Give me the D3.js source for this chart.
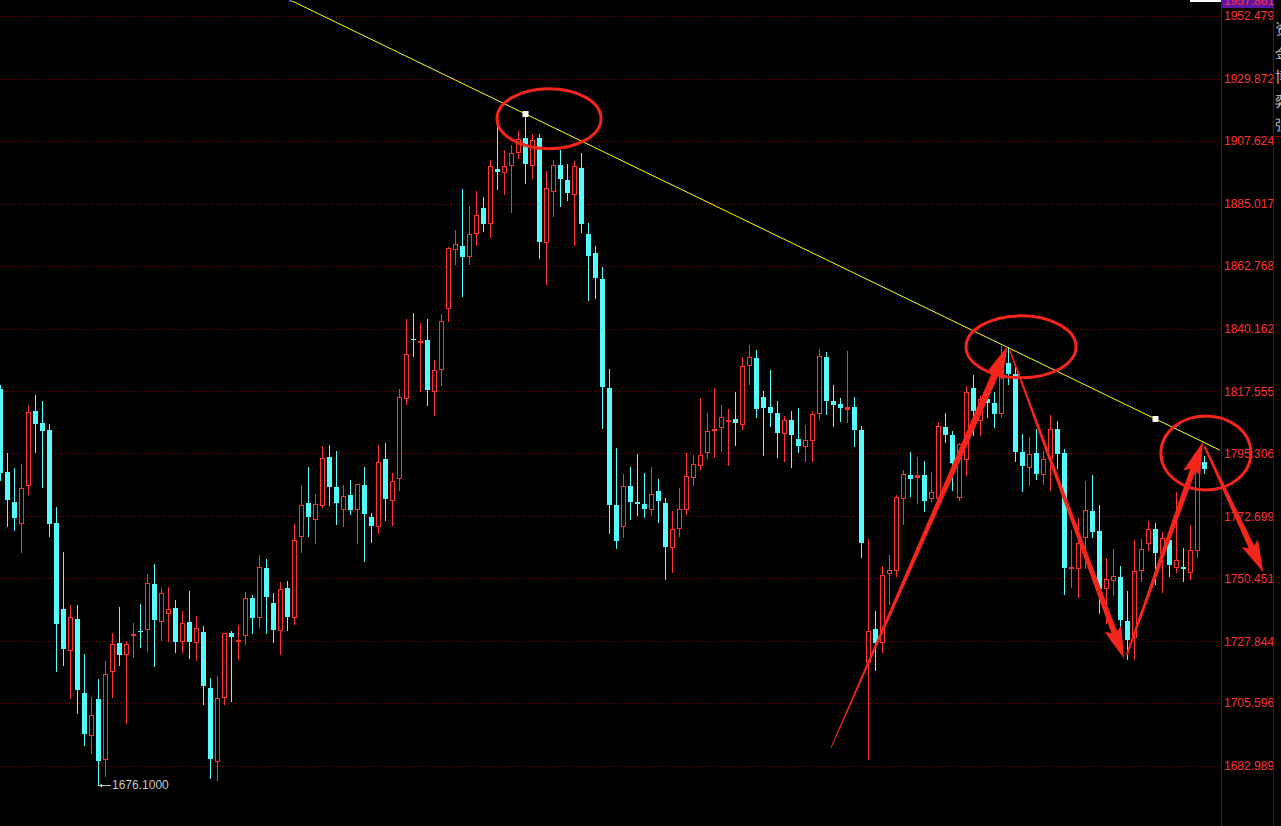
<!DOCTYPE html>
<html><head><meta charset="utf-8">
<script src="https://cdn.jsdelivr.net/npm/d3@7/dist/d3.min.js"></script>
<style>
html,body{margin:0;padding:0;background:#000;overflow:hidden;}
svg{display:block;}
text{font-family:"Liberation Sans",Arial,sans-serif;}
</style></head>
<body>
<svg id="chart" width="1281" height="826"></svg>
<script>
// ---- data (OHLC per bar) ----
const openP = [1818.5,1788.6,1777.8,1770.4,1784.1,1810.6,1806.2,1803.7,1770.2,1739.4,1724.6,1735.8,1709.2,1694.0,1707.1,1685.4,1717.0,1727.2,1723.3,1729.9,
1731.5,1732.1,1748.4,1735.2,1737.9,1739.8,1727.9,1734.7,1727.5,1731.1,1711.0,1684.9,1707.7,1730.8,1728.1,1729.9,1743.2,1736.4,1754.0,1741.6,
1731.8,1746.8,1736.4,1765.5,1777.4,1771.6,1776.9,1794.0,1783.1,1775.4,1780.3,1775.4,1784.0,1772.5,1769.3,1793.2,1778.5,1786.4,1815.1,1836.4,
1835.4,1835.9,1817.6,1825.5,1847.5,1868.9,1869.7,1866.1,1874.4,1883.5,1878.2,1897.5,1896.3,1898.8,1903.7,1908.6,1899.1,1908.6,1871.4,1889.7,
1898.9,1893.6,1888.6,1897.9,1874.2,1867.3,1858.0,1818.8,1776.8,1769.3,1783.5,1777.8,1777.1,1775.4,1781.8,1777.5,1761.8,1768.6,1775.4,1786.7,
1791.3,1795.7,1803.6,1804.7,1807.0,1807.7,1806.0,1827.0,1829.6,1815.6,1812.0,1809.8,1802.8,1807.3,1800.5,1798.1,1800.2,1809.7,1830.0,1814.1,
1813.1,1811.4,1812.0,1803.7,1720.3,1732.2,1727.6,1752.4,1753.5,1779.2,1787.6,1786.7,1787.6,1779.4,1779.4,1804.7,1801.8,1779.7,1793.2,1818.8,
1807.3,1814.9,1813.4,1809.9,1827.7,1823.8,1795.7,1790.3,1795.4,1787.8,1793.6,1804.1,1795.5,1754.1,1754.2,1765.4,1774.7,1767.4,1746.8,1749.7,
1751.0,1735.1,1729.5,1753.5,1763.2,1768.3,1759.4,1764.2,1754.6,1754.5,1752.8,1760.5,1792.2];
const highP = [1819.9,1795.4,1790.1,1791.5,1812.7,1816.3,1814.1,1805.9,1775.9,1759.9,1740.7,1740.7,1723.2,1707.8,1714.2,1720.7,1730.7,1740.0,1728.0,1734.3,
1741.2,1752.0,1755.6,1746.9,1747.3,1742.6,1738.7,1745.9,1736.8,1733.3,1714.6,1715.3,1730.7,1731.5,1733.7,1745.5,1744.4,1758.8,1757.4,1745.2,
1749.1,1749.5,1769.9,1784.0,1790.4,1780.7,1798.0,1798.3,1796.2,1784.0,1785.8,1784.2,1790.4,1773.9,1798.3,1798.9,1788.3,1818.5,1843.6,1845.8,
1842.2,1843.6,1828.9,1845.4,1869.4,1875.6,1890.3,1884.2,1889.6,1887.4,1900.7,1914.4,1904.3,1906.1,1911.2,1917.3,1910.1,1910.1,1896.8,1900.7,
1904.3,1899.3,1900.4,1903.3,1878.2,1869.9,1862.4,1825.6,1797.1,1787.9,1790.3,1795.1,1788.3,1790.4,1786.1,1779.3,1774.6,1782.9,1795.4,1794.6,
1815.2,1809.8,1818.8,1812.7,1811.3,1817.4,1830.0,1834.3,1832.5,1817.7,1825.3,1814.1,1808.8,1810.7,1811.6,1805.5,1810.7,1832.8,1831.7,1819.9,
1815.2,1832.1,1815.6,1805.2,1764.6,1738.7,1754.7,1758.7,1780.3,1789.3,1795.8,1794.0,1792.6,1788.6,1806.6,1809.7,1803.4,1799.1,1819.5,1823.5,
1815.9,1817.5,1817.4,1833.9,1833.7,1827.3,1802.2,1801.1,1804.1,1796.3,1809.0,1807.0,1796.9,1767.8,1772.2,1785.4,1787.6,1776.8,1757.7,1761.0,
1755.0,1745.9,1764.2,1764.7,1771.0,1770.4,1767.1,1766.7,1781.6,1761.3,1769.6,1795.5,1794.4];
const lowP = [1785.8,1769.2,1767.8,1759.9,1780.7,1795.8,1783.4,1765.6,1717.2,1719.4,1707.5,1702.1,1690.6,1687.6,1676.1,1679.4,1707.9,1719.3,1698.5,1722.3,
1725.9,1724.3,1718.9,1728.1,1727.8,1723.9,1723.9,1721.8,1721.1,1705.3,1678.7,1678.0,1705.3,1706.3,1721.5,1726.9,1730.9,1733.0,1730.9,1727.5,
1723.3,1732.0,1734.1,1760.0,1765.7,1763.2,1776.2,1776.9,1770.1,1769.3,1773.5,1763.2,1756.8,1763.5,1766.8,1771.5,1769.7,1782.3,1813.2,1830.4,
1817.6,1812.8,1809.2,1820.0,1843.0,1863.5,1852.0,1863.5,1870.3,1875.3,1873.2,1890.4,1888.6,1882.2,1901.5,1892.6,1894.4,1865.6,1856.3,1880.7,
1884.3,1886.5,1870.3,1874.8,1850.4,1851.3,1804.6,1766.8,1761.4,1765.4,1771.8,1773.3,1772.6,1773.3,1770.8,1750.3,1752.8,1765.7,1773.6,1784.1,
1789.8,1793.8,1794.1,1796.3,1791.3,1798.4,1804.2,1820.4,1808.5,1794.8,1805.3,1794.1,1792.7,1790.5,1795.9,1792.7,1792.7,1807.7,1809.6,1805.3,
1807.1,1806.7,1798.1,1758.2,1685.6,1717.6,1724.1,1741.3,1751.4,1770.1,1780.1,1777.6,1774.7,1778.3,1778.3,1799.5,1782.2,1778.6,1787.7,1801.8,
1801.8,1808.5,1804.9,1808.5,1820.4,1792.7,1781.9,1784.1,1786.2,1784.4,1782.3,1790.2,1744.9,1747.4,1743.8,1754.0,1765.4,1738.1,1734.3,1744.5,
1727.5,1721.3,1721.4,1749.6,1760.5,1748.5,1745.5,1751.4,1752.8,1749.6,1750.3,1758.0,1788.1];
const closeP = [1788.3,1778.6,1772.2,1782.8,1810.1,1806.0,1803.5,1769.9,1734.1,1725.1,1736.4,1710.3,1694.6,1701.2,1684.9,1716.0,1726.8,1723.0,1726.8,1730.3,
1731.1,1748.7,1735.6,1745.2,1739.3,1727.5,1734.3,1727.5,1732.4,1711.7,1685.6,1707.3,1730.7,1729.4,1728.4,1743.2,1736.3,1754.4,1743.8,1732.0,
1746.5,1736.6,1764.1,1776.7,1772.6,1777.0,1793.6,1783.4,1777.6,1779.9,1775.1,1784.2,1773.6,1769.3,1792.1,1779.0,1785.3,1815.5,1830.9,1836.1,
1835.8,1818.0,1825.2,1842.8,1869.0,1870.5,1866.0,1874.0,1880.9,1877.9,1898.6,1896.5,1898.6,1903.3,1908.2,1899.4,1907.9,1871.4,1890.7,1898.9,
1893.9,1889.0,1898.6,1877.6,1866.4,1858.4,1819.3,1776.8,1764.0,1783.5,1778.0,1777.2,1775.4,1780.6,1778.3,1761.8,1768.0,1775.2,1787.1,1791.4,
1794.6,1803.3,1804.0,1808.3,1807.3,1806.3,1826.6,1829.8,1811.4,1811.7,1809.9,1802.8,1807.3,1802.0,1798.1,1800.1,1809.5,1830.3,1814.3,1812.8,
1811.7,1812.0,1803.8,1763.2,1731.4,1727.1,1751.7,1753.3,1779.5,1787.8,1786.2,1787.6,1778.3,1781.3,1805.1,1802.0,1792.0,1798.7,1817.3,1810.7,
1814.8,1813.5,1809.6,1827.9,1824.0,1795.9,1790.9,1795.1,1788.0,1793.2,1804.0,1795.2,1754.2,1754.4,1763.1,1775.0,1767.2,1746.6,1750.1,1751.2,
1735.5,1728.3,1753.0,1761.0,1768.1,1759.5,1765.0,1755.3,1757.0,1753.8,1760.6,1792.1,1789.8];

// price axis tick labels
const tickValues = [1952.479,1929.872,1907.624,1885.017,1862.768,1840.162,1817.555,1795.306,1772.699,1750.451,1727.844,1705.596,1682.989];
const topMarkLabel = "1957.861";
const lowIndex = 14, lowLabel = "1676.1000";

// annotations in (bar index, price)
const trendAnchors = [[75, 1917.26], [165, 1807.68]];
const trendRange = [41.36, 174.2];
const circles = [[78.36, 1915.6, 52, 30], [145.79, 1833.6, 55, 31], [172.2, 1795.5, 45, 37]];
const arrows = [
  [[118.64, 1689.5], [143.86, 1833.9]],
  [[144.2, 1832.3], [160.5, 1721.6]],
  [[160.9, 1722.9], [171.8, 1799.6]],
  [[172.0, 1797.8], [180.4, 1752.6]]
];
const sideChars = ["资","金","博","弈","强"];

// ---- scales ----
const plotRight = 1221;
const x = d3.scaleLinear().domain([0, 172]).range([0.5, 1204.5]);
const y = d3.scaleLinear().domain([1682.989, 1952.479]).range([766, 16]);

const svg = d3.select("#chart");
const RED = "#ff3232", CYAN = "#54fcfc", GRID = "#8a0000", ANN = "#f4251a";

// grid lines
svg.append("g").selectAll("line").data(tickValues).join("line")
  .attr("x1", 0).attr("x2", plotRight)
  .attr("y1", d => Math.round(y(d)) + 0.5).attr("y2", d => Math.round(y(d)) + 0.5)
  .attr("stroke", GRID).attr("stroke-width", 1).attr("stroke-dasharray", "1,2")
  .attr("shape-rendering", "crispEdges");

// right axis
const axis = d3.axisRight(y).tickValues(tickValues).tickSize(0).tickFormat(d3.format(".3f"));
const ag = svg.append("g").attr("transform", `translate(${plotRight + 0.5},0)`).call(axis);
ag.select(".domain").remove();
ag.selectAll("text").attr("fill", RED).attr("font-size", 12).attr("x", 2.5)
  .attr("font-family", "'Liberation Sans',Arial,sans-serif");
svg.append("line").attr("x1", plotRight + 0.5).attr("x2", plotRight + 0.5).attr("y1", 0).attr("y2", 826)
  .attr("stroke", "#8a0000").attr("shape-rendering", "crispEdges");
svg.append("line").attr("x1", 1273.5).attr("x2", 1273.5).attr("y1", 0).attr("y2", 826)
  .attr("stroke", "#8a0000").attr("shape-rendering", "crispEdges");
svg.append("line").attr("x1", 1273).attr("x2", 1281).attr("y1", 136.5).attr("y2", 136.5)
  .attr("stroke", "#8a0000").attr("shape-rendering", "crispEdges");

// top purple mark
svg.append("rect").attr("x", plotRight + 1).attr("y", 0).attr("width", 51).attr("height", 8).attr("fill", "#5a16a6");
svg.append("text").attr("x", plotRight + 3).attr("y", 5).attr("fill", RED).attr("font-size", 12).text(topMarkLabel);
svg.append("rect").attr("x", 1190).attr("y", 0).attr("width", 31).attr("height", 2).attr("fill", "#ffffff");

// side clipped chars
const clip = svg.append("clipPath").attr("id", "sideclip");
clip.append("rect").attr("x", 1274).attr("y", 0).attr("width", 7).attr("height", 136);
svg.append("g").attr("clip-path", "url(#sideclip)").selectAll("text").data(sideChars).join("text")
  .attr("x", 1275).attr("y", (d, i) => 34 + i * 24).attr("fill", "#c8c8c8").attr("font-size", 15)
  .attr("font-family", "'Noto Sans CJK SC',sans-serif").text(d => d);

// candles
const bars = openP.map((o, i) => ({i, o, h: highP[i], l: lowP[i], c: closeP[i]}));
const cg = svg.append("g").attr("shape-rendering", "crispEdges");
const candle = cg.selectAll("g").data(bars).join("g");
candle.append("line")
  .attr("x1", d => Math.floor(x(d.i)) + 0.5).attr("x2", d => Math.floor(x(d.i)) + 0.5)
  .attr("y1", d => Math.round(y(d.h))).attr("y2", d => Math.round(y(d.l)) + 1)
  .attr("stroke", d => d.c >= d.o ? RED : CYAN);
candle.each(function(d) {
  const g = d3.select(this);
  const cx = Math.floor(x(d.i));
  const top = Math.round(y(Math.max(d.o, d.c)));
  const bot = Math.round(y(Math.min(d.o, d.c)));
  const hgt = Math.max(1, bot - top);
  if (d.c >= d.o) {
    if (hgt <= 2) {
      g.append("rect").attr("x", cx - 2).attr("y", top).attr("width", 5).attr("height", Math.max(1, hgt + 1)).attr("fill", RED);
    } else {
      g.append("rect").attr("x", cx - 1.5).attr("y", top + 0.5).attr("width", 4).attr("height", hgt)
        .attr("fill", "#000").attr("stroke", RED).attr("stroke-width", 1);
    }
  } else {
    g.append("rect").attr("x", cx - 2).attr("y", top).attr("width", 5).attr("height", hgt).attr("fill", CYAN);
  }
});

// low label
const lx = Math.floor(x(lowIndex)) + 1, ly = Math.round(y(lowP[lowIndex]));
svg.append("line").attr("x1", lx).attr("x2", lx + 12).attr("y1", ly + 0.5).attr("y2", ly + 0.5).attr("stroke", "#c8c8c8");
svg.append("path").attr("d", `M${lx},${ly + 0.5} l3,-2 v4 z`).attr("fill", "#c8c8c8");
svg.append("text").attr("x", lx + 13).attr("y", ly + 4).attr("fill", "#c8c8c8").attr("font-size", 12).text(lowLabel);

// trend line
const tslope = (trendAnchors[1][1] - trendAnchors[0][1]) / (trendAnchors[1][0] - trendAnchors[0][0]);
const tp = t => trendAnchors[0][1] + (t - trendAnchors[0][0]) * tslope;
svg.append("line")
  .attr("x1", x(trendRange[0])).attr("y1", y(tp(trendRange[0])))
  .attr("x2", x(trendRange[1])).attr("y2", y(tp(trendRange[1])))
  .attr("stroke", "#ffff00").attr("stroke-width", 1);
svg.selectAll(".anchor").data(trendAnchors).join("rect").attr("class", "anchor")
  .attr("x", d => x(d[0]) - 3).attr("y", d => y(d[1]) - 3).attr("width", 6).attr("height", 6).attr("fill", "#ffffff");
svg.append("rect").attr("x", x(trendRange[0]) - 1).attr("y", 0).attr("width", 3).attr("height", 2).attr("fill", "#3050ff");

// red circles
svg.selectAll(".circ").data(circles).join("ellipse").attr("class", "circ")
  .attr("cx", d => x(d[0])).attr("cy", d => y(d[1])).attr("rx", d => d[2]).attr("ry", d => d[3])
  .attr("fill", "none").attr("stroke", ANN).attr("stroke-width", 3);

// red tapered arrows
function arrowPath(t, h, wT, wB, hl, hw) {
  const dx = h[0] - t[0], dy = h[1] - t[1];
  const L = Math.hypot(dx, dy), ux = dx / L, uy = dy / L, nx = -uy, ny = ux;
  const bx = h[0] - ux * hl, by = h[1] - uy * hl;
  const p = [
    [t[0] + nx * wT / 2, t[1] + ny * wT / 2],
    [bx + nx * wB / 2, by + ny * wB / 2],
    [bx + nx * hw / 2 - ux * 4, by + ny * hw / 2 - uy * 4],
    [h[0], h[1]],
    [bx - nx * hw / 2 - ux * 4, by - ny * hw / 2 - uy * 4],
    [bx - nx * wB / 2, by - ny * wB / 2],
    [t[0] - nx * wT / 2, t[1] - ny * wT / 2]
  ];
  return "M" + p.map(q => q[0].toFixed(1) + "," + q[1].toFixed(1)).join("L") + "Z";
}
const arrowStyle = [[1, 7, 30, 18], [1.5, 6, 28, 18], [2, 6, 30, 18], [2, 6, 28, 18]];
svg.selectAll(".arr").data(arrows).join("path").attr("class", "arr")
  .attr("d", (d, k) => {
    const s = arrowStyle[k];
    return arrowPath([x(d[0][0]), y(d[0][1])], [x(d[1][0]), y(d[1][1])], s[0], s[1], s[2], s[3]);
  })
  .attr("fill", ANN);
</script>
</body></html>
